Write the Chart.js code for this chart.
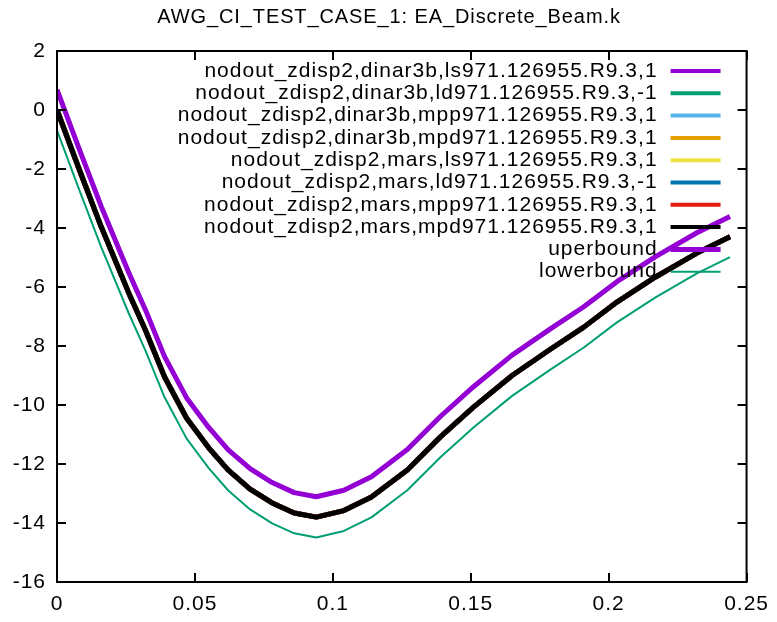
<!DOCTYPE html>
<html>
<head>
<meta charset="utf-8">
<script src="https://cdn.jsdelivr.net/npm/chart.js@4/dist/chart.umd.min.js"></script>
<style>
  html, body { margin: 0; padding: 0; background: #fff; }
  canvas { display: block; }
</style>
</head>
<body>
<canvas id="c" width="777" height="622"></canvas>
<script>
const chartTitle = 'AWG_CI_TEST_CASE_1: EA_Discrete_Beam.k';
const xTicks = [0, 0.05, 0.1, 0.15, 0.2, 0.25];
const yTicks = [-16, -14, -12, -10, -8, -6, -4, -2, 0, 2];

const seriesNames = [
    'nodout_zdisp2,dinar3b,ls971.126955.R9.3,1',
    'nodout_zdisp2,dinar3b,ld971.126955.R9.3,-1',
    'nodout_zdisp2,dinar3b,mpp971.126955.R9.3,1',
    'nodout_zdisp2,dinar3b,mpd971.126955.R9.3,1',
    'nodout_zdisp2,mars,ls971.126955.R9.3,1',
    'nodout_zdisp2,mars,ld971.126955.R9.3,-1',
    'nodout_zdisp2,mars,mpp971.126955.R9.3,1',
    'nodout_zdisp2,mars,mpd971.126955.R9.3,1',
];
const seriesColors = ['#9400d3', '#009e73', '#56b4e9', '#e69f00', '#f0e442', '#0072b2', '#e51e10', '#000000'];

// time axis (s) and z displacement of the node, same for every solver run
const times = [0, 0.008, 0.016, 0.026, 0.032, 0.039, 0.047, 0.055, 0.062, 0.070, 0.078, 0.086, 0.094,
    0.104, 0.114, 0.127, 0.139, 0.151, 0.165, 0.179, 0.191, 0.203, 0.217, 0.232, 0.244];
const zdisp = [0, -2.0, -3.95, -6.2, -7.45, -9.05, -10.45, -11.45, -12.2, -12.85, -13.32, -13.66, -13.8,
    -13.58, -13.12, -12.2, -11.08, -10.07, -9.0, -8.1, -7.36, -6.51, -5.66, -4.85, -4.3];
const upperBound = [0.69, -1.31, -3.26, -5.51, -6.76, -8.36, -9.76, -10.76, -11.51, -12.16, -12.63, -12.97, -13.11,
    -12.89, -12.43, -11.51, -10.39, -9.38, -8.31, -7.41, -6.67, -5.82, -4.97, -4.16, -3.61];
const lowerBound = [-0.69, -2.69, -4.64, -6.89, -8.14, -9.74, -11.14, -12.14, -12.89, -13.54, -14.01, -14.35, -14.49,
    -14.27, -13.81, -12.89, -11.77, -10.76, -9.69, -8.79, -8.05, -7.2, -6.35, -5.54, -4.99];

const FONT = '"Liberation Sans", Arial, sans-serif';
const pts = (ys) => times.map((t, i) => ({ x: t, y: ys[i] }));

const datasets = seriesNames.map((name, i) => ({
    label: name, data: pts(zdisp), borderColor: seriesColors[i], borderWidth: 5, legendWidth: 4,
}));
datasets.push({ label: 'uperbound', data: pts(upperBound), borderColor: '#9400d3', borderWidth: 5, legendWidth: 5 });
datasets.push({ label: 'lowerbound', data: pts(lowerBound), borderColor: '#009e73', borderWidth: 2, legendWidth: 2 });
// later datasets on top, like gnuplot
datasets.forEach((d, i) => {
    d.order = datasets.length - i;
    d.pointRadius = 0;
    d.tension = 0;
    d.fill = false;
    d.borderJoinStyle = 'round';
});

// frame, inward ticks on all four sides, title and gnuplot-style key
const gnuplotFrame = {
    id: 'gnuplotFrame',
    beforeDraw(chart) {
        // gnuplot's text runs a little wider than the browser's
        chart.ctx.letterSpacing = '1px';
    },
    afterDraw(chart) {
        const { ctx, chartArea: a, scales } = chart;
        ctx.save();
        ctx.strokeStyle = '#000';
        ctx.lineWidth = 2;
        ctx.strokeRect(a.left, a.top, a.right - a.left, a.bottom - a.top);
        ctx.beginPath();
        xTicks.forEach((v) => {
            const x = Math.round(scales.x.getPixelForValue(v));
            ctx.moveTo(x, a.bottom); ctx.lineTo(x, a.bottom - 9);
            ctx.moveTo(x, a.top); ctx.lineTo(x, a.top + 9);
        });
        yTicks.forEach((v) => {
            const y = Math.round(scales.y.getPixelForValue(v));
            ctx.moveTo(a.left, y); ctx.lineTo(a.left + 9, y);
            ctx.moveTo(a.right, y); ctx.lineTo(a.right - 9, y);
        });
        ctx.stroke();

        ctx.fillStyle = '#000';
        ctx.letterSpacing = '0.9px';
        ctx.font = '20px ' + FONT;
        ctx.textAlign = 'center';
        ctx.textBaseline = 'middle';
        ctx.fillText(chartTitle, 389, 17);

        ctx.letterSpacing = '1px';
        ctx.font = '21px ' + FONT;
        ctx.textAlign = 'right';
        chart.data.datasets.forEach((d, i) => {
            const y = 71 + i * 22.3;
            ctx.fillText(d.label, a.right - 89, y);
            ctx.strokeStyle = d.borderColor;
            ctx.lineWidth = d.legendWidth;
            ctx.beginPath();
            ctx.moveTo(a.right - 76, y);
            ctx.lineTo(a.right - 26, y);
            ctx.stroke();
        });
        ctx.restore();
    },
};

new Chart(document.getElementById('c'), {
    type: 'line',
    data: { datasets },
    options: {
        responsive: false,
        animation: false,
        layout: { padding: { top: 51, right: 29, left: 0, bottom: 0 } },
        plugins: { legend: { display: false }, title: { display: false }, tooltip: { enabled: false } },
        scales: {
            x: {
                type: 'linear', min: 0, max: 0.25,
                afterBuildTicks: (s) => { s.ticks = xTicks.map((v) => ({ value: v })); },
                afterFit: (s) => { s.height = 40; },
                grid: { display: false, drawTicks: false },
                border: { display: false },
                ticks: { color: '#000', font: { family: FONT, size: 21 }, padding: 10, maxRotation: 0,
                    callback: (v) => String(+v.toFixed(2)) },
            },
            y: {
                type: 'linear', min: -16, max: 2,
                afterBuildTicks: (s) => { s.ticks = yTicks.map((v) => ({ value: v })); },
                afterFit: (s) => { s.width = 57; },
                grid: { display: false, drawTicks: false },
                border: { display: false },
                ticks: { color: '#000', font: { family: FONT, size: 21 }, padding: 11,
                    callback: (v) => String(v) },
            },
        },
    },
    plugins: [gnuplotFrame],
});
</script>
</body>
</html>
